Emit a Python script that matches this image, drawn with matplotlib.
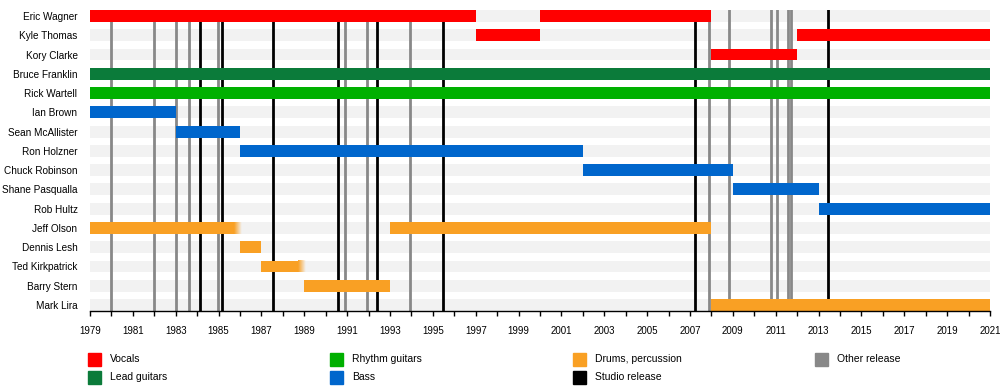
import numpy as np
import matplotlib
matplotlib.use("Agg")
import matplotlib.pyplot as plt
from matplotlib.patches import Rectangle

plt.rcParams['font.family'] = ['Liberation Sans', 'DejaVu Sans']

# band members, top to bottom
names = ["Eric Wagner", "Kyle Thomas", "Kory Clarke", "Bruce Franklin", "Rick Wartell",
         "Ian Brown", "Sean McAllister", "Ron Holzner", "Chuck Robinson", "Shane Pasqualla",
         "Rob Hultz", "Jeff Olson", "Dennis Lesh", "Ted Kirkpatrick", "Barry Stern", "Mark Lira"]

# tenure bars
bar_names = ["Eric Wagner", "Eric Wagner", "Kyle Thomas", "Kyle Thomas", "Kory Clarke",
             "Bruce Franklin", "Rick Wartell", "Ian Brown", "Sean McAllister", "Ron Holzner",
             "Chuck Robinson", "Shane Pasqualla", "Rob Hultz", "Jeff Olson", "Jeff Olson",
             "Dennis Lesh", "Ted Kirkpatrick", "Barry Stern", "Mark Lira"]
bar_start = [1979, 2000, 1997, 2012, 2008, 1979, 1979, 1979, 1983, 1986,
             2002, 2009, 2013, 1979, 1993, 1986, 1987, 1989, 2008]
bar_end = [1997, 2008, 2000, 2021, 2012, 2021, 2021, 1983, 1986, 2002,
           2009, 2013, 2021, 1986, 2008, 1987, 1989, 1993, 2021]
bar_role = ["Vocals", "Vocals", "Vocals", "Vocals", "Vocals",
            "Lead guitars", "Rhythm guitars", "Bass", "Bass", "Bass",
            "Bass", "Bass", "Bass", "Drums, percussion", "Drums, percussion",
            "Drums, percussion", "Drums, percussion", "Drums, percussion", "Drums, percussion"]
bar_fade = [False, False, False, False, False, False, False, False, False, False,
            False, False, False, True, False, False, True, False, False]

# releases
studio_years = [1984.13, 1985.15, 1987.53, 1990.57, 1992.38, 1995.47, 2007.23, 2013.44]
other_years = [1980.0, 1982.0, 1983.0, 1983.62, 1984.97, 1990.9, 1991.91, 1993.93,
               2007.89, 2008.82, 2010.76, 2011.04, 2011.57, 2011.69]

legend_labels = ["Vocals", "Lead guitars", "Rhythm guitars", "Bass",
                 "Drums, percussion", "Studio release", "Other release"]
colors = {
    "Vocals": "#ff0000",
    "Lead guitars": "#0b7b3a",
    "Rhythm guitars": "#00b000",
    "Bass": "#0066cc",
    "Drums, percussion": "#f9a024",
    "Studio release": "#000000",
    "Other release": "#888888",
}

fig = plt.figure(figsize=(10, 3.9), dpi=100)
ax = fig.add_axes([0.09, 1 - 311 / 390, 0.90, 301 / 390])

ypos = {n: i for i, n in enumerate(names)}
h = 0.62

# light stripes behind each row
ax.barh(range(len(names)), 2021 - 1979, left=1979, height=h, color="#f2f2f2", zorder=0)

for x in other_years:
    ax.axvline(x, color=colors["Other release"], lw=2, zorder=1)
for x in studio_years:
    ax.axvline(x, color=colors["Studio release"], lw=2, zorder=1)

for n, s, e, r, f in zip(bar_names, bar_start, bar_end, bar_role, bar_fade):
    y = ypos[n]
    c = colors[r]
    if f:
        fw = 0.3
        ax.barh(y, e - fw - s, left=s, height=h, color=c, zorder=2)
        rgba = np.zeros((1, 20, 4))
        rgba[..., :3] = matplotlib.colors.to_rgb(c)
        rgba[0, :, 3] = np.linspace(1, 0, 20)
        ax.imshow(rgba, extent=(e - fw, e + 0.05, y + h / 2, y - h / 2),
                  aspect="auto", zorder=2, interpolation="bilinear")
    else:
        ax.barh(y, e - s, left=s, height=h, color=c, zorder=2)

ax.set_xlim(1979, 2021)
ax.set_ylim(len(names) - 1 + h / 2, -h / 2)
ax.set_yticks(range(len(names)))
ax.set_yticklabels(names, fontsize=7.2)
ax.tick_params(axis="y", length=0, pad=9)
ax.set_xticks(range(1979, 2022, 2))
ax.set_xticks(range(1979, 2022), minor=True)
ax.tick_params(axis="x", which="both", length=3.5, width=1, labelsize=7, pad=7)
for side in ["top", "right", "left"]:
    ax.spines[side].set_visible(False)
ax.spines["bottom"].set_linewidth(1)

# legend
col_x = [88, 330, 573, 815]
row_y = [359, 377]
slots = [(0, 0), (0, 1), (1, 0), (1, 1), (2, 0), (2, 1), (3, 0)]
for lab, (ci, ri) in zip(legend_labels, slots):
    x0 = col_x[ci]
    yc = row_y[ri]
    fig.add_artist(Rectangle((x0 / 1000, 1 - (yc + 6.5) / 390), 13 / 1000, 13 / 390,
                             transform=fig.transFigure, color=colors[lab]))
    fig.text((x0 + 22) / 1000, 1 - yc / 390, lab, fontsize=7.5, va="center", ha="left")

fig.savefig("out.png", dpi=100)
